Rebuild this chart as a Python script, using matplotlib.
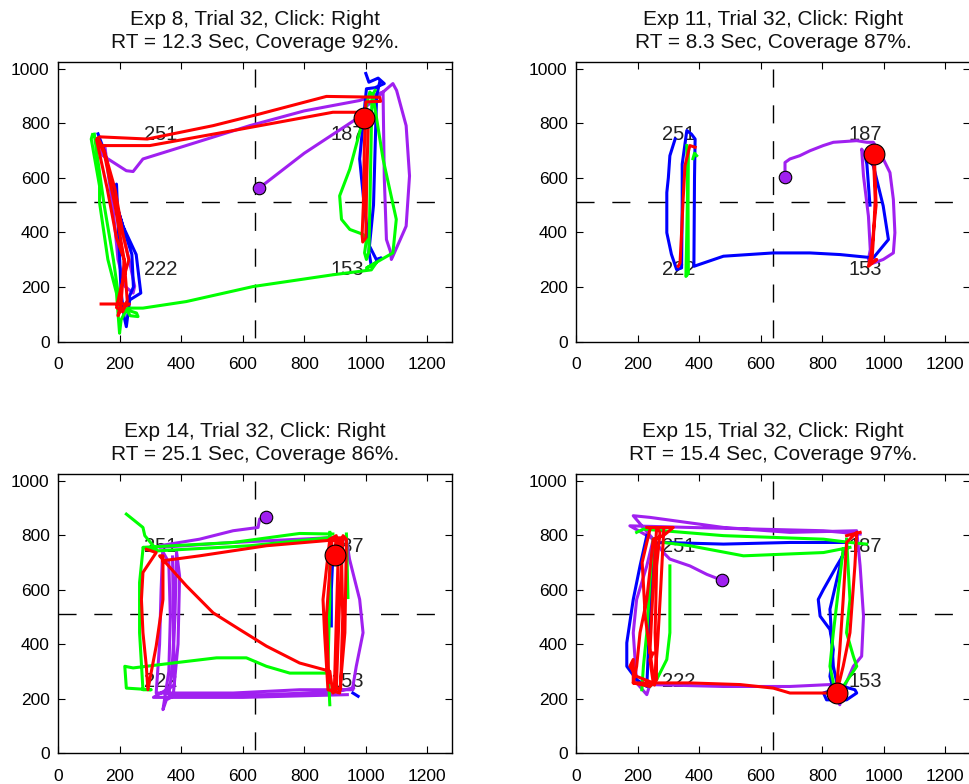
import matplotlib
matplotlib.use("Agg")
import matplotlib.pyplot as plt
import numpy as np

plt.rcParams['font.family'] = ['Liberation Sans', 'DejaVu Sans']

# ---------------- data ----------------
titles = [
    "Exp 8, Trial 32, Click: Right\nRT = 12.3 Sec, Coverage 92%.",
    "Exp 11, Trial 32, Click: Right\nRT = 8.3 Sec, Coverage 87%.",
    "Exp 14, Trial 32, Click: Right\nRT = 25.1 Sec, Coverage 86%.",
    "Exp 15, Trial 32, Click: Right\nRT = 15.4 Sec, Coverage 97%.",
]
target_labels = ["251", "222", "187", "153"]
target_x = [281, 281, 886, 886]
target_y = [757, 263, 757, 263]
x_ticks = [0, 200, 400, 600, 800, 1000, 1200]
y_ticks = [0, 200, 400, 600, 800, 1000]
screen_w, screen_h = 1280, 1024
center_x, center_y = 640, 512

start_pts = [(653, 562), (679, 604), (677, 865), (475, 634)]
click_pts = [(993, 818), (969, 687), (899, 726), (847, 221)]

# Panel 1 (Exp 8) trajectories, None separates strokes
p1_purple = [(653, 562), (800, 690), (970, 816), (1000, 860), (1056, 914), (1088, 945), (1100, 920),
             (1131, 791), (1142, 607), (1131, 423), (1088, 313), (1083, 301), (1080, 330), (1067, 374),
             (1060, 600), (1056, 914), (1020, 900), (980, 883), (800, 845), (623, 791), (450, 730),
             (276, 669), (244, 623), (222, 626), (146, 681), (125, 718), (152, 718), (165, 600),
             (179, 485), (195, 301), (217, 203), (244, 178), (249, 203), (233, 289), (210, 400),
             (180, 550), (150, 700)]
p1_blue = [(130, 761), (150, 700), (170, 600), (190, 500), (211, 423), (254, 319), (269, 178),
           (233, 153), (222, 55), (215, 90), (205, 180), (190, 577), (185, 520), (211, 423),
           (240, 320), (245, 200), (222, 140), None,
           (1000, 982), (1010, 950), (1040, 965), (1060, 945), (1030, 930), (1002, 926),
           (980, 669), (996, 485), (1012, 350), (1034, 301), (1050, 307), (1018, 276),
           (1010, 330), (1025, 500), (1030, 700), (1035, 900), (1045, 950)]
p1_green = [(112, 758), (108, 742), (135, 570), (135, 509), (162, 301), (190, 178), (195, 104),
            (200, 31), (205, 80), (222, 117), (255, 105), (260, 92), (235, 95), (220, 120),
            (233, 123), (276, 123), (417, 147), (634, 202), (893, 245), (1018, 263), (1034, 289),
            (1002, 270), (1088, 325), (1099, 448), (1056, 669), (1023, 902), (1013, 914),
            (980, 767), (948, 632), (915, 534), (921, 448), (948, 411), (991, 393), (1002, 374),
            (996, 325), (1002, 301), (1010, 330), (1015, 600), (1020, 900), (1030, 920), None,
            (118, 760), (125, 700), (150, 500), (180, 300), (200, 140)]
p1_red = [(140, 138), (232, 138), (205, 120), (195, 95), (205, 140), (215, 300), (190, 380),
          (160, 560), (125, 740), (135, 750), (290, 742), (504, 791), (656, 834), (872, 898),
          (1045, 895), (1048, 880), (1000, 878), (995, 700), (992, 500), (988, 390), (990, 365),
          (1000, 380), (1003, 600), (1008, 800), (1005, 840), (893, 840), (569, 773),
          (298, 718), (140, 718), (130, 735), (150, 690), (185, 500), (215, 300), (225, 150),
          (210, 110), (190, 125), (205, 200), (230, 300), (210, 400), (185, 560), (150, 700),
          (130, 745)]

# Panel 2 (Exp 11)
p2_purple = [(679, 604), (679, 656), (695, 669), (727, 681), (760, 699), (803, 718), (836, 730),
             (912, 736), (945, 730), (966, 730), (993, 681), (1020, 619), (1031, 521), (1036, 399),
             (1031, 325), (998, 301), (966, 288), (950, 300), (956, 337), (950, 460), (934, 607),
             (928, 705), (935, 690)]
p2_blue = [(322, 742), (305, 681), (300, 600), (295, 546), (295, 399), (310, 320), (327, 264),
           (343, 270), (345, 500), (345, 650), (360, 773), (375, 760), (387, 742), (385, 600),
           (383, 276), (479, 313), (641, 325), (760, 325), (858, 319), (966, 307), (1015, 374),
           (998, 497), (966, 644), (939, 681), (945, 650), (955, 500)]
p2_green = [(360, 718), (362, 600), (362, 521), (360, 400), (357, 239), (365, 250), (364, 500),
            (365, 700), None, (392, 681), (385, 690), (380, 670)]
p2_red = [(332, 276), (338, 288), (343, 399), (348, 520), (354, 644), (370, 718), (387, 712),
          None, (966, 687), (972, 521), (966, 374), (961, 288), (977, 301), (950, 276),
          (960, 330), (975, 500), (969, 687)]

# Panel 3 (Exp 14)
p3_purple = [(677, 865), (655, 859), (650, 828), (569, 816), (460, 785), (330, 761), (330, 755),
             (569, 773), (893, 791), (937, 785), (947, 712), (980, 564), (991, 442), (969, 319),
             (958, 245), (958, 233), (785, 233), (569, 221), (319, 221), (330, 400), (335, 600),
             (340, 740), (360, 700), (365, 500), (360, 300), (341, 160), (352, 196), (374, 209),
             (390, 400), (395, 650), (385, 740), (380, 500), (370, 300), (360, 215), (600, 212),
             (900, 225), (960, 240), None,
             (372, 720), (375, 500), (378, 250), (310, 205), (600, 205), (940, 215)]
p3_blue = [(893, 724), (888, 600), (888, 467), None, (958, 221), (975, 209)]
p3_green = [(222, 877), (276, 828), (282, 798), (319, 748), (276, 755), (569, 773), (785, 806),
            (893, 804), None, (319, 742), (623, 761), (883, 791), None,
            (276, 748), (265, 626), (265, 442), (276, 233), (303, 233), (222, 239), (217, 319),
            (244, 313), (374, 331), (515, 350), (612, 350), (677, 319), (753, 294), (877, 294),
            None, (883, 810), (883, 564), (877, 319), (883, 178), None, (937, 804), (942, 571)]
p3_red = [(287, 748), (319, 736), (276, 663), (271, 564), (276, 442), (287, 319), (292, 233),
          (319, 393), (341, 564), (341, 724), (330, 724), (417, 614), (504, 515), (590, 454),
          (677, 393), (785, 331), (883, 301), (893, 221), (904, 233), (915, 564), (926, 798),
          (937, 785), (932, 442), (915, 221), (877, 233), (866, 442), (861, 564), (883, 785),
          (926, 785), (677, 761), (460, 724), (341, 706), None,
          (920, 790), (925, 500), (918, 235), (898, 240), (905, 520), (912, 790), (890, 780),
          (872, 500), (880, 260), None,
          (883, 785), (904, 798), (899, 726)]

# Panel 4 (Exp 15)
p4_purple = [(475, 634), (425, 656), (370, 687), (305, 712), (284, 736), (251, 785), (186, 871),
             (240, 865), (479, 828), (695, 810), (912, 816), (923, 687), (934, 503), (928, 356),
             (901, 319), (868, 233), (857, 178), (825, 252), (695, 245), (479, 245), (240, 252),
             (230, 215), (197, 258), (186, 442), (197, 564), (230, 687), (251, 785), (175, 834),
             (370, 828), (804, 816), (923, 804)]
p4_blue = [(230, 798), (208, 687), (186, 564), (165, 405), (165, 319), (197, 270), (230, 245),
           (240, 500), (250, 770), (284, 773), (479, 767), (695, 773), (879, 773), (879, 748),
           (847, 687), (804, 601), (787, 564), (793, 503), (825, 454), (836, 380), (825, 282),
           (836, 233), (804, 221), (814, 196), (879, 196), (912, 221), (906, 233), (868, 245),
           None, (868, 736), (825, 528), (836, 319), (852, 233)]
p4_green = [(197, 810), (219, 822), (284, 816), (479, 798), (804, 785), (890, 773), (944, 767),
            None, (284, 773), (370, 761), (544, 724), (804, 736), (890, 755), None,
            (251, 785), (240, 626), (230, 442), (219, 319), (214, 233), None,
            (305, 687), (305, 442), (295, 344), (262, 270), (240, 245), None,
            (879, 785), (890, 564), (879, 442), (901, 356), (912, 319), (868, 245), None,
            (868, 748), (836, 442), (825, 319), (836, 258)]
p4_red = [(230, 828), (316, 828), (284, 798), (251, 785), (230, 564), (208, 442), (197, 319),
          (186, 258), (240, 245), (262, 270), (257, 442), (262, 687), (273, 810), (262, 828),
          (250, 600), (240, 368), (251, 368), (240, 344), (251, 258), (197, 282), (175, 319),
          (186, 344), (186, 258), (370, 258), (533, 252), (641, 239), (695, 221), (804, 221),
          (847, 221), (868, 319), (890, 442), (906, 687), (912, 810), (901, 798), (879, 773),
          (868, 564), (857, 380), (847, 245), None, (879, 798), (923, 810), None,
          (285, 820), (275, 600), (265, 400), (255, 250), (225, 500), (215, 700), (240, 820)]

panels = [
    [p1_purple, p1_blue, p1_green, p1_red],
    [p2_purple, p2_blue, p2_green, p2_red],
    [p3_purple, p3_blue, p3_green, p3_red],
    [p4_purple, p4_blue, p4_green, p4_red],
]
colors = ['#A020F0', '#0000FF', '#00FF00', '#FF0000']

# ---------------- plotting ----------------
fig = plt.figure(figsize=(9.70, 7.84), dpi=100)
W, H = 970, 784
positions = [
    (58 / W, (784 - 341.7) / H, 394 / W, 279.7 / H),
    (576 / W, (784 - 341.7) / H, 394 / W, 279.7 / H),
    (58 / W, (784 - 753.3) / H, 394 / W, 279.3 / H),
    (576 / W, (784 - 753.3) / H, 394 / W, 279.3 / H),
]


def to_xy(pts):
    xs, ys = [], []
    for p in pts:
        if p is None:
            xs.append(np.nan); ys.append(np.nan)
        else:
            xs.append(p[0]); ys.append(p[1])
    return xs, ys


for i in range(4):
    ax = fig.add_axes(positions[i])
    ax.set_xlim(0, screen_w)
    ax.set_ylim(0, screen_h)
    ax.set_xticks(x_ticks)
    ax.set_yticks(y_ticks)
    ax.tick_params(direction='in', top=True, right=True, length=5, width=0.8,
                   labelsize=12.5, colors='black')
    ax.tick_params(axis='x', pad=11)
    ax.tick_params(axis='y', pad=6)
    for s in ax.spines.values():
        s.set_linewidth(1.0)
    ax.set_title(titles[i], fontsize=15, linespacing=1.27, pad=10, color='#111111')

    ax.plot([center_x, center_x], [1000, 0], color='black', lw=1.0,
            dashes=(13, 12.8), zorder=1)
    ax.plot([0, 1250], [center_y, center_y], color='black', lw=1.0,
            dashes=(13, 12.8), zorder=1)

    for lab, tx, ty in zip(target_labels, target_x, target_y):
        ax.text(tx, ty, lab, fontsize=14.5, ha='left', va='center', color='#222222', zorder=1.5)

    for pts, c in zip(panels[i], colors):
        xs, ys = to_xy(pts)
        ax.plot(xs, ys, color=c, lw=2.2, solid_joinstyle='round', zorder=2)

    ax.plot(*start_pts[i], 'o', color='#A020F0', mec='black', mew=0.8, ms=9, zorder=4)
    ax.plot(*click_pts[i], 'o', color='#FF0000', mec='black', mew=0.8, ms=15, zorder=4)

fig.savefig("out.png", dpi=100)
